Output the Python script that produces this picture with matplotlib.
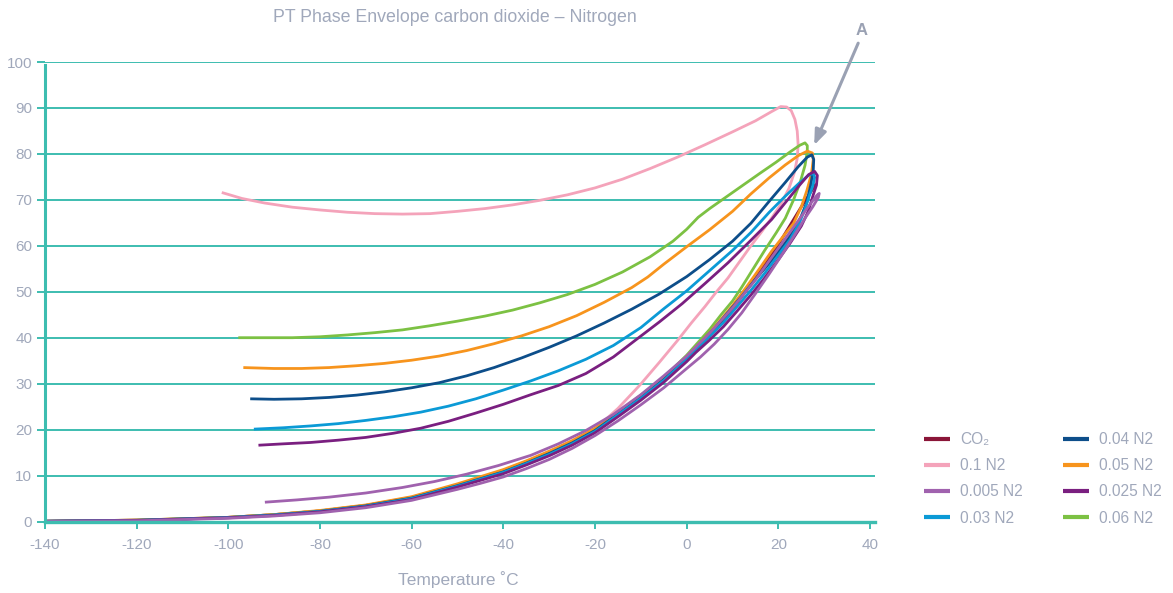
import matplotlib
matplotlib.use("Agg")
import matplotlib.pyplot as plt

# ---------------- data ----------------
co2_T = [-140, -130, -120, -110, -100, -90, -80, -70, -60, -50, -40, -35, -30, -25, -20, -15, -10, -5, 0, 5, 10,
         15, 20, 25, 28.2]
co2_P = [0.05, 0.15, 0.3, 0.55, 0.9, 1.5, 2.3, 3.5, 5.1, 7.9, 11.0, 12.8, 14.8, 17.1, 19.8, 23.3, 27.2, 31.3, 35.6,
         40.6, 46.3, 53.0, 60.3, 68.5, 73.5]

n2_010_T = [-101.4, -97, -92, -86, -80, -74, -68, -62, -56, -50, -44, -38, -32, -26, -20, -14, -8, -2, 4, 10, 15,
            18.5, 20.5, 21.8, 22.8, 23.6, 24.1, 24.3, 24.1, 23.5, 22.3, 20.5, 18.5, 16.3, 14, 11.5, 9, 6.5, 4, 1,
            -2, -6, -10.2, -15, -19.8, -25, -30, -35, -40, -50, -60, -70, -80, -90, -100, -120, -140]
n2_010_P = [71.6, 70.3, 69.3, 68.4, 67.8, 67.3, 67.0, 66.9, 67.0, 67.5, 68.1, 68.9, 69.9, 71.1, 72.6, 74.5, 76.8,
            79.3, 82.0, 84.8, 87.2, 89.2, 90.3, 90.2, 89.4, 87.5, 85.0, 82.0, 79.0, 76.0, 72.5, 69.0, 66.0, 63.0,
            60.0, 56.5, 53.0, 50.0, 46.8, 43.2, 39.4, 34.6, 29.7, 24.6, 20.3, 17.2, 15.2, 13.0, 11.1, 8.0, 5.3, 3.5,
            2.3, 1.5, 0.9, 0.3, 0.05]

n2_0005_T = [-92.0, -85, -78, -70, -62, -55, -48, -41, -34, -28, -22, -16, -10, -5, 0, 5, 10, 15, 20, 24, 26.8,
             28.4, 28.9, 28.7, 27.5, 25.8, 23.5, 21, 18, 15, 12, 9, 6, 3, 0, -5, -10, -15, -20, -25, -30, -35, -40,
             -45, -50, -60, -70, -80, -90, -100, -120, -140]
n2_0005_P = [4.2, 4.7, 5.3, 6.2, 7.4, 8.7, 10.3, 12.2, 14.4, 16.9, 19.8, 23.3, 27.6, 31.7, 36.0, 41.0, 46.5, 52.6,
             59.5, 65.0, 68.9, 71.0, 71.4, 70.5, 68.5, 66.0, 62.3, 58.4, 53.9, 49.6, 45.4, 41.8, 38.6, 35.8, 33.3,
             29.1, 25.4, 21.9, 18.7, 15.9, 13.5, 11.5, 9.7, 8.3, 7.0, 4.6, 3.0, 1.9, 1.2, 0.7, 0.15, 0.03]

n2_003_T = [-94.4, -88, -82, -76, -70, -64, -58, -52, -46, -40, -34, -28, -22, -16, -10, -5, 0, 5, 10, 14, 18, 21.5,
            24.5, 26.5, 27.6, 27.9, 27.5, 26.8, 25.8, 24.5, 22.5, 20, 17, 14, 11, 8, 5, 2, 0, -5, -10, -15, -20, -25,
            -30, -35, -40, -50, -60, -70, -80, -90, -100, -120, -140]
n2_003_P = [20.1, 20.4, 20.8, 21.3, 22.0, 22.8, 23.8, 25.1, 26.7, 28.6, 30.6, 32.8, 35.3, 38.3, 42.2, 46.3, 50.2,
            54.6, 59.0, 62.9, 67.3, 70.8, 73.6, 75.3, 75.8, 74.9, 73.0, 71.1, 68.0, 64.8, 61.3, 58.0, 54.0, 50.3,
            46.8, 43.3, 40.3, 37.3, 35.3, 30.7, 26.8, 23.2, 19.6, 16.9, 14.6, 12.6, 10.7, 7.7, 5.0, 3.3, 2.2, 1.4,
            0.85, 0.25, 0.05]

n2_004_T = [-95.2, -90, -84, -78, -72, -66, -60, -54, -48, -42, -36, -30, -24, -18, -12, -6, 0, 5, 10, 14, 18, 21.5,
            24.3, 26.3, 27.3, 27.7, 27.6, 27.1, 26.2, 25, 23.5, 21, 18, 15, 12, 9, 6, 3, 0, -5, -10, -15, -20, -25,
            -30, -35, -40, -50, -60, -70, -80, -90, -100, -120, -140]
n2_004_P = [26.7, 26.6, 26.7, 27.0, 27.5, 28.2, 29.1, 30.2, 31.7, 33.5, 35.6, 37.9, 40.4, 43.2, 46.2, 49.5, 53.3,
            57.0, 61.0, 64.9, 69.7, 73.8, 77.2, 79.3, 79.8, 78.8, 76.5, 73.5, 69.5, 66.5, 63.5, 60.0, 56.2, 52.7,
            49.0, 45.5, 42.0, 38.8, 35.5, 30.9, 27.0, 23.4, 19.8, 17.1, 14.8, 12.7, 10.8, 7.8, 5.1, 3.4, 2.2, 1.4,
            0.85, 0.25, 0.05]

n2_005_T = [-96.7, -90, -84, -78, -72, -66, -60, -54, -48, -42, -36, -30, -24, -18, -12, -8.5, -5, 0, 5, 10, 14, 18,
            21.5, 24.3, 26.3, 27.4, 27.6, 27.2, 26.2, 25, 23.3, 21, 18.5, 16, 13, 10, 7.5, 5, 2.5, 0, -5, -10, -15,
            -20, -25, -30, -35, -40, -50, -60, -70, -80, -90, -100, -120, -140]
n2_005_P = [33.5, 33.3, 33.3, 33.5, 33.9, 34.4, 35.1, 36.0, 37.2, 38.7, 40.4, 42.4, 44.8, 47.7, 50.9, 53.2, 56.0,
            59.8, 63.5, 67.5, 71.3, 74.8, 77.6, 79.6, 80.6, 80.2, 78.8, 75.6, 72.0, 68.5, 64.9, 62.0, 58.8, 55.2,
            51.0, 47.0, 44.0, 41.1, 38.4, 35.9, 31.3, 27.5, 23.8, 20.3, 17.6, 15.3, 13.2, 11.3, 8.2, 5.4, 3.6, 2.4,
            1.5, 0.9, 0.3, 0.05]

n2_0025_T = [-93.4, -88, -82, -76, -70, -64, -58, -52, -46, -40, -34, -28, -22, -16, -11, -6, -1, 4, 9, 14, 18.5,
             22, 24.7, 26.6, 27.9, 28.5, 28.3, 27.6, 26.5, 25, 22.5, 20, 17, 14, 11, 8, 5, 2, 0, -5, -10, -15, -20,
             -25, -30, -35, -40, -50, -60, -70, -80, -90, -100, -120, -140]
n2_0025_P = [16.6, 16.9, 17.2, 17.7, 18.3, 19.2, 20.3, 21.8, 23.6, 25.5, 27.6, 29.6, 32.2, 35.8, 39.6, 43.4, 47.4,
             51.8, 56.3, 61.2, 65.7, 70.0, 73.3, 75.5, 76.2, 75.3, 73.2, 71.1, 67.5, 64.3, 60.5, 57.0, 53.0, 49.3,
             45.8, 42.4, 39.5, 36.8, 34.8, 30.3, 26.4, 22.8, 19.3, 16.6, 14.3, 12.3, 10.4, 7.5, 4.8, 3.2, 2.1, 1.3,
             0.8, 0.22, 0.04]

n2_006_T = [-97.8, -92, -86, -80, -74, -68, -62, -56, -50, -44, -38, -32, -26, -20, -14, -8, -3, 0, 2.5, 5, 8, 12,
            16, 19.5, 22.5, 24.7, 25.8, 26.3, 26.3, 25.8, 24.8, 23.3, 21.5, 19.5, 17, 14.5, 12, 10, 7.5, 5, 2.5, 0,
            -5, -10, -15, -20, -25, -30, -35, -40, -50, -60, -70, -80, -90, -100, -120, -140]
n2_006_P = [40.0, 40.0, 40.0, 40.2, 40.6, 41.1, 41.7, 42.6, 43.6, 44.7, 46.0, 47.6, 49.4, 51.6, 54.3, 57.6, 61.0,
            63.6, 66.2, 68.1, 70.2, 73.0, 75.8, 78.2, 80.4, 81.9, 82.4, 81.8, 80.5, 77.5, 74.0, 70.0, 66.0, 62.8,
            59.0, 55.0, 51.0, 48.0, 45.0, 41.8, 39.0, 36.2, 31.3, 27.2, 23.3, 20.0, 17.2, 15.0, 12.9, 11.0, 8.0,
            5.2, 3.5, 2.3, 1.5, 0.9, 0.3, 0.05]

labels = ["CO₂", "0.1 N2", "0.005 N2", "0.03 N2", "0.04 N2", "0.05 N2", "0.025 N2", "0.06 N2"]
colors = ["#8a1538", "#f4a3ba", "#a062ae", "#0b9ad6", "#0d4e8a", "#f7941d", "#7a1f80", "#7cc143"]
series = [(co2_T, co2_P), (n2_010_T, n2_010_P), (n2_0005_T, n2_0005_P), (n2_003_T, n2_003_P),
          (n2_004_T, n2_004_P), (n2_005_T, n2_005_P), (n2_0025_T, n2_0025_P), (n2_006_T, n2_006_P)]
draw_order = [0, 1, 7, 5, 4, 3, 6, 2]

x_ticks = [-140, -120, -100, -80, -60, -40, -20, 0, 20, 40]
y_ticks = [0, 10, 20, 30, 40, 50, 60, 70, 80, 90, 100]

# ---------------- figure ----------------
plt.rcParams['font.family'] = ['Liberation Sans', 'DejaVu Sans']
plt.rcParams['axes.unicode_minus'] = False
W, H = 1173, 593
fig = plt.figure(figsize=(W / 100, H / 100), dpi=100)
ax = fig.add_axes([44.8 / W, (H - 521.5) / H, (874.7 - 44.8) / W, (521.5 - 62) / H])

grid_c = "#3dbdb0"
txt_c = "#a0a8bb"

ax.set_xlim(-140, 41)
ax.set_ylim(0, 100)
ax.set_yticks(y_ticks)
ax.set_xticks(x_ticks)
ax.grid(axis='y', color=grid_c, lw=1.4)
ax.set_axisbelow(True)
for s in ['top', 'right']:
    ax.spines[s].set_visible(False)
ax.spines['left'].set_color(grid_c)
ax.spines['left'].set_linewidth(2.2)
ax.spines['left'].set_bounds(0, 99.3)
ax.spines['bottom'].set_color(grid_c)
ax.spines['bottom'].set_linewidth(2.4)
ax.tick_params(axis='y', length=6, width=1.4, color=grid_c, labelcolor=txt_c, labelsize=11, pad=3)
ax.tick_params(axis='x', length=5, width=1.4, color=grid_c, labelcolor=txt_c, labelsize=11, pad=7)

handles = {}
for i in draw_order:
    T, P = series[i]
    ln, = ax.plot(T, P, color=colors[i], lw=2.0, solid_joinstyle='round', solid_capstyle='butt', label=labels[i])
    handles[i] = ln

fig.text(455 / W, 1 - 18 / H, "PT Phase Envelope carbon dioxide – Nitrogen", color=txt_c, fontsize=12.8,
         ha='center', va='center')
fig.text(458 / W, 1 - 580 / H, "Temperature ˚C", color=txt_c, fontsize=12.5, ha='center', va='center')

ax.annotate("", xy=(27.8, 81.9), xytext=(37.4, 104.1), annotation_clip=False,
            arrowprops=dict(arrowstyle="-|>,head_length=0.9,head_width=0.35", color="#9aa1b3", lw=2.2,
                            shrinkA=0, shrinkB=0))
ax.text(38.2, 106.9, "A", color="#9aa1b3", fontsize=12, fontweight='bold', ha='center', va='center',
        clip_on=False)

leg = fig.legend([handles[i] for i in range(8)], labels, ncol=2, loc='upper left',
                 bbox_to_anchor=(910 / W, 1 - 418 / H), frameon=False, fontsize=11.2, labelcolor=txt_c,
                 handlelength=1.7, handletextpad=0.6, columnspacing=2.6, labelspacing=0.72)
for lh in leg.get_lines():
    lh.set_linewidth(3)

fig.savefig("out.png", dpi=100)
